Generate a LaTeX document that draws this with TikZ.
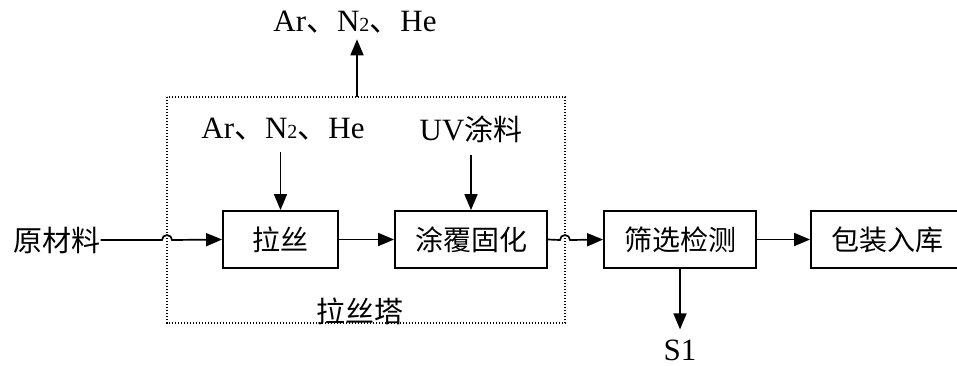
\documentclass[tikz,border=0pt]{standalone}
\usepackage{fontspec}
\setmainfont{Liberation Serif}
\newfontfamily\cjk{Noto Sans CJK SC}
\usetikzlibrary{arrows.meta,calc}
\tikzset{
  box/.style={draw, line width=1.8pt, minimum height=57pt, inner sep=0pt, font=\cjk\fontsize{28}{28}\selectfont},
  arr/.style={line width=1.7pt, -{Triangle[length=16pt,width=13pt]}},
  lbl/.style={inner sep=0pt, font=\fontsize{31}{31}\selectfont},
  tower/.style={line width=1.4pt, dash pattern=on 1.4pt off 1.6pt},
}
\newcommand{\gasmix}{Ar{\cjk 、}N{\fontsize{20}{20}\selectfont 2}{\cjk 、}He}
\begin{document}
\begin{tikzpicture}[x=1pt,y=-1pt]
\useasboundingbox (0,0) rectangle (957,365);
% dotted tower box
\draw[tower] (167,97) rectangle (565,323);
\coordinate (towertop) at (357,97);
\coordinate (hopA) at (167,240);
\coordinate (hopB) at (565,240);
% nodes
\node[lbl, font=\cjk\fontsize{29}{29}\selectfont] (raw) at (57,240) {原材料};
\node[box, minimum width=115pt] (ls) at (280.5,239.5) {拉丝};
\node[box, minimum width=152pt] (tf) at (471,239.5) {涂覆固化};
\node[box, minimum width=152pt] (sx) at (680,239.5) {筛选检测};
\node[box, minimum width=152pt] (bz) at (887,239.5) {包装入库};
\node[lbl] (gasout) at (355,22) {\gasmix};
\node[lbl] (gasin) at (283,129) {\gasmix};
\node[lbl] (uv) at (471,129) {UV{\cjk\fontsize{29}{29}\selectfont 涂料}};
\node[lbl, font=\cjk\fontsize{29}{29}\selectfont] (twlbl) at (360,311) {拉丝塔};
\node[lbl] (s1) at (680,350) {S1};
% connectors
\draw[arr] (raw.east) -- ($(hopA)+(-5,0)$) arc[start angle=180,end angle=360,radius=5] -- (ls.west);
\draw[arr] (ls.east) -- (tf.west);
\draw[arr] (tf.east) -- ($(hopB)+(-5,0)$) arc[start angle=180,end angle=360,radius=5] -- (sx.west);
\draw[arr] (sx.east) -- (bz.west);
\draw[arr] (towertop) -- ($(gasout.south -| towertop)+(0,6)$);
\draw[arr] ($(gasin.south -| ls.north)+(0,12)$) -- (ls.north);
\draw[arr] ($(uv.south -| tf.north)+(0,12)$) -- (tf.north);
\draw[arr] (sx.south) -- ($(s1.north)+(0,-10)$);
\end{tikzpicture}
\end{document}
